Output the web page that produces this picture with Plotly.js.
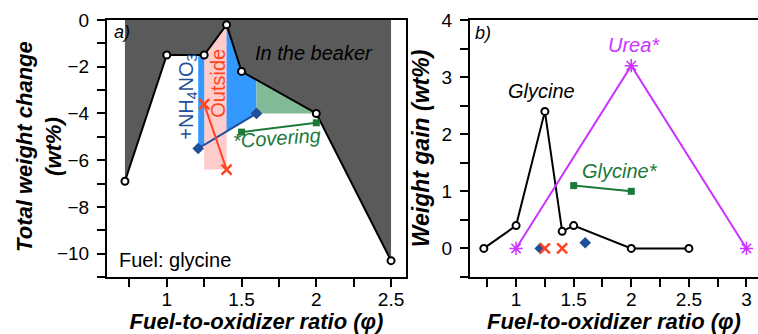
<!DOCTYPE html>
<html>
<head>
<meta charset="utf-8">
<script src="https://cdn.plot.ly/plotly-3.0.1.min.js"></script>
<style>html,body{margin:0;padding:0;background:#fff;}#chart{width:758px;height:334px;}</style>
</head>
<body>
<div id="chart"></div>
<script>
// ---- Panel a) total weight change (glycine fuel) ----
const phiA = [0.72, 1.0, 1.25, 1.4, 1.5, 2.0, 2.5];
const totalChange = [-6.9, -1.5, -1.5, -0.2, -2.2, -4.0, -10.3];
const nh4Phi = [1.21, 1.6];
const nh4Change = [-5.5, -4.0];
const outPhi = [1.25, 1.4];
const outChange = [-3.6, -6.4];
const covPhi = [1.5, 2.0];
const covChange = [-4.8, -4.4];

// ---- Panel b) weight gain ----
const phiB = [0.72, 1.0, 1.25, 1.4, 1.5, 2.0, 2.5];
const glyGain = [0, 0.4, 2.4, 0.3, 0.4, 0, 0];
const ureaPhi = [1, 2, 3];
const ureaGain = [0, 3.2, 0];
const glyStarPhi = [1.5, 2.0];
const glyStarGain = [1.1, 1.0];
const outGainPhi = [1.25, 1.4];
const outGain = [0, 0];
const nh4GainPhi = [1.21, 1.6];
const nh4Gain = [0, 0.1];

const BLACK = '#000000', GRAY = '#5a5a5a', BLUEFILL = '#3399ff', DBLUE = '#1f4f99',
      PINK = '#ffcccc', RED = '#ff4422', GREEN = '#1b7a3a', GREENFILL = '#82ba98', MAG = '#cc33ff';
const FONT = 'Liberation Sans, Arial, sans-serif';

function interp(xs, ys, x) {
  for (let i = 0; i < xs.length - 1; i++) {
    if (x >= xs[i] && x <= xs[i + 1]) {
      const t = (x - xs[i]) / (xs[i + 1] - xs[i]);
      return ys[i] + t * (ys[i + 1] - ys[i]);
    }
  }
  return ys[ys.length - 1];
}
// points of black curve between a and b (inclusive, with interpolated ends)
function curveBetween(a, b) {
  const X = [a], Y = [interp(phiA, totalChange, a)];
  phiA.forEach((x, i) => { if (x > a && x < b) { X.push(x); Y.push(totalChange[i]); } });
  X.push(b); Y.push(interp(phiA, totalChange, b));
  return [X, Y];
}

const traces = [];
// gray region above curve
traces.push({x: phiA.concat([phiA[phiA.length - 1], phiA[0]]), y: totalChange.concat([0, 0]),
  xaxis: 'x', yaxis: 'y', mode: 'none', fill: 'toself', fillcolor: GRAY, hoverinfo: 'skip', showlegend: false});
// blue region
{
  const [X, Y] = curveBetween(nh4Phi[0], nh4Phi[1]);
  traces.push({x: X.concat([nh4Phi[1], nh4Phi[0]]), y: Y.concat([nh4Change[1], nh4Change[0]]),
    xaxis: 'x', yaxis: 'y', mode: 'none', fill: 'toself', fillcolor: BLUEFILL, hoverinfo: 'skip', showlegend: false});
}
// pink region
{
  const [X, Y] = curveBetween(outPhi[0], outPhi[1]);
  const low = Math.min(...outChange);
  traces.push({x: X.concat([outPhi[1], outPhi[0]]), y: Y.concat([low, low]),
    xaxis: 'x', yaxis: 'y', mode: 'none', fill: 'toself', fillcolor: PINK, hoverinfo: 'skip', showlegend: false});
}
// green region
{
  const [X, Y] = curveBetween(nh4Phi[1], covPhi[1]);
  traces.push({x: X.concat([covPhi[1], nh4Phi[1]]), y: Y.concat([nh4Change[1], nh4Change[1]]),
    xaxis: 'x', yaxis: 'y', mode: 'none', fill: 'toself', fillcolor: GREENFILL, hoverinfo: 'skip', showlegend: false});
}
const circ = {symbol: 'circle', size: 7, color: '#ffffff', line: {color: BLACK, width: 2}};
// black curve
traces.push({x: phiA, y: totalChange, xaxis: 'x', yaxis: 'y', mode: 'lines+markers',
  line: {color: BLACK, width: 2}, marker: circ, showlegend: false});
traces.push({x: nh4Phi, y: nh4Change, xaxis: 'x', yaxis: 'y', mode: 'lines+markers',
  line: {color: DBLUE, width: 2}, marker: {symbol: 'diamond', size: 9, color: DBLUE}, showlegend: false});
traces.push({x: outPhi, y: outChange, xaxis: 'x', yaxis: 'y', mode: 'lines+markers',
  line: {color: RED, width: 2}, marker: {symbol: 'x-thin-open', size: 10, color: RED, line: {color: RED, width: 2.5}}, showlegend: false});
traces.push({x: covPhi, y: covChange, xaxis: 'x', yaxis: 'y', mode: 'lines+markers',
  line: {color: GREEN, width: 2}, marker: {symbol: 'square', size: 7, color: GREEN}, showlegend: false});

// panel b
traces.push({x: phiB, y: glyGain, xaxis: 'x2', yaxis: 'y2', mode: 'lines+markers',
  line: {color: BLACK, width: 2}, marker: circ, showlegend: false});
traces.push({x: ureaPhi, y: ureaGain, xaxis: 'x2', yaxis: 'y2', mode: 'lines+markers',
  line: {color: MAG, width: 2}, marker: {symbol: 'asterisk-open', size: 11, color: MAG, line: {color: MAG, width: 1.5}}, showlegend: false});
traces.push({x: glyStarPhi, y: glyStarGain, xaxis: 'x2', yaxis: 'y2', mode: 'lines+markers',
  line: {color: GREEN, width: 2}, marker: {symbol: 'square', size: 7, color: GREEN}, showlegend: false});
traces.push({x: nh4GainPhi, y: nh4Gain, xaxis: 'x2', yaxis: 'y2', mode: 'markers',
  marker: {symbol: 'diamond', size: 9, color: DBLUE}, showlegend: false});
traces.push({x: outGainPhi, y: outGain, xaxis: 'x2', yaxis: 'y2', mode: 'markers',
  marker: {symbol: 'x-thin-open', size: 10, color: RED, line: {color: RED, width: 2.5}}, showlegend: false});

const tickFont = {family: FONT, size: 19, color: BLACK};
const titleFont = {family: FONT, size: 22, color: BLACK};
function axisBase() {
  return {showline: true, linecolor: BLACK, linewidth: 2, ticks: 'outside', ticklen: 8, tickwidth: 2,
    tickcolor: BLACK, showgrid: false, zeroline: false, tickfont: tickFont,
    minor: {ticks: 'outside', ticklen: 8, tickwidth: 2, tickcolor: BLACK, showgrid: false}};
}
const xaxis = Object.assign(axisBase(), {domain: [0, 0.4593], range: [0.6, 2.6], dtick: 0.5, tick0: 0, mirror: true,
  anchor: 'y', ticklabelstandoff: -4,
  title: {text: '<b><i>Fuel-to-oxidizer ratio (φ)</i></b>', font: titleFont, standoff: 6}});
xaxis.minor.dtick = 0.25;
const yaxis = Object.assign(axisBase(), {domain: [0, 1], range: [-11, 0], dtick: 2, tick0: 0, mirror: true,
  anchor: 'x', ticklabelstandoff: 4});
yaxis.minor.dtick = 1;
const xaxis2 = Object.assign(axisBase(), {domain: [0.5576, 1], range: [0.6, 3.1], dtick: 0.5, tick0: 0, mirror: true,
  anchor: 'y2', ticklabelstandoff: -4,
  title: {text: '<b><i>Fuel-to-oxidizer ratio (φ)</i></b>', font: titleFont, standoff: 6}});
xaxis2.minor.dtick = 0.25;
const yaxis2 = Object.assign(axisBase(), {domain: [0, 1], range: [-0.5, 4], dtick: 1, tick0: 0, mirror: false,
  anchor: 'x2', ticklabelstandoff: 4,
  title: {text: '<b><i>Weight gain (wt%)</i></b>', font: Object.assign({}, titleFont, {size: 23}), standoff: 6}});
yaxis2.minor.dtick = 0.5;

function ann(text, x, y, xr, yr, color, opts) {
  return Object.assign({text: text, x: x, y: y, xref: xr, yref: yr, showarrow: false,
    font: {family: FONT, size: 20, color: color}, xanchor: 'center', yanchor: 'middle'}, opts || {});
}
const annotations = [
  // left y-axis title (two lines)
  ann('<b><i>Total weight change<br>(wt%)</i></b>', -0.1045, 0.51, 'paper', 'paper', BLACK,
      {textangle: -90, font: titleFont}),
  ann('<i>a)</i>', 0.633, -0.5, 'x', 'y', BLACK, {xanchor: 'left', font: {family: FONT, size: 18, color: BLACK}}),
  ann('<i>In the beaker</i>', 1.987, -1.41, 'x', 'y', BLACK),
  ann('Fuel: glycine', 0.667, -10.27, 'x', 'y', BLACK, {xanchor: 'left'}),
  ann('<i>*Covering</i>', 1.74, -5.05, 'x', 'y', GREEN, {textangle: -4}),
  ann('Outside', 1.34, -2.7, 'x', 'y', RED, {textangle: -90}),
  ann('+NH<sub>4</sub>NO<sub>3</sub>', 1.133, -3.3, 'x', 'y', DBLUE, {textangle: -90}),
  ann('<i>b)</i>', 0.626, 3.78, 'x2', 'y2', BLACK, {xanchor: 'left', font: {family: FONT, size: 18, color: BLACK}}),
  ann('<i>Urea*</i>', 2.022, 3.57, 'x2', 'y2', MAG),
  ann('<i>Glycine</i>', 1.224, 2.75, 'x2', 'y2', BLACK),
  ann('<i>Glycine*</i>', 1.90, 1.36, 'x2', 'y2', GREEN)
];

const layout = {
  width: 758, height: 334,
  margin: {l: 107, r: 0, t: 20, b: 57, pad: 0},
  paper_bgcolor: '#ffffff', plot_bgcolor: '#ffffff',
  showlegend: false,
  font: {family: FONT, color: BLACK},
  xaxis: xaxis, yaxis: yaxis, xaxis2: xaxis2, yaxis2: yaxis2,
  annotations: annotations
};
Plotly.newPlot('chart', traces, layout, {displayModeBar: false, staticPlot: true});
</script>
</body>
</html>
